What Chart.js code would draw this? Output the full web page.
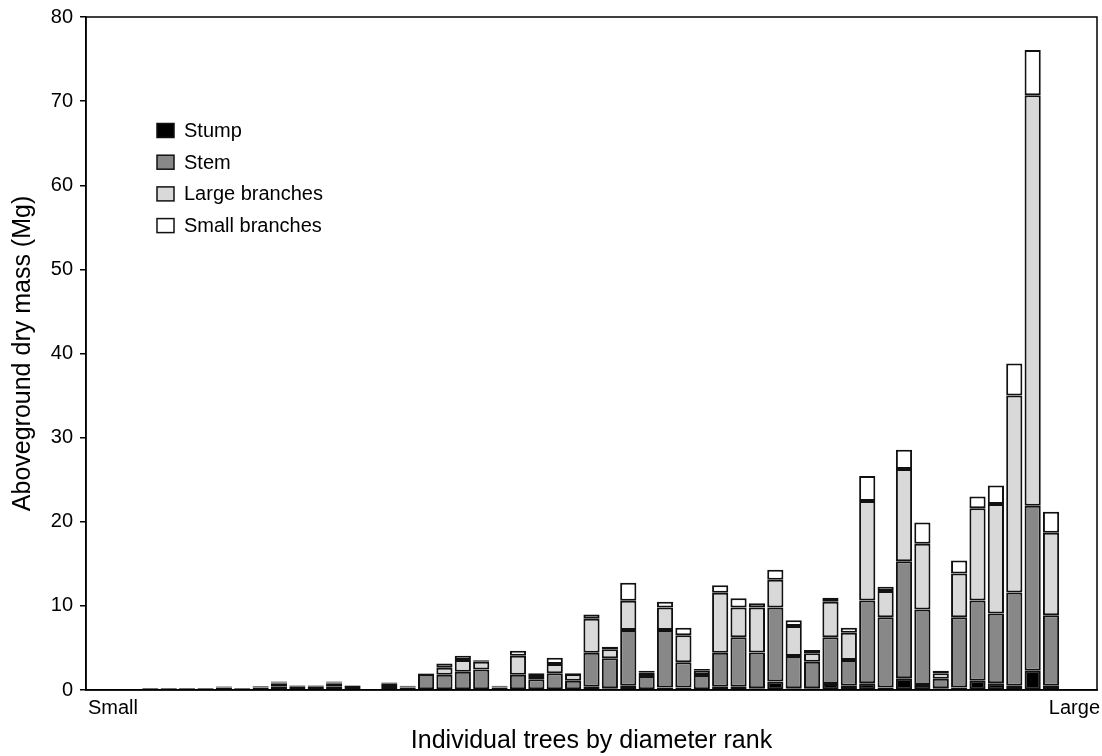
<!DOCTYPE html>
<html>
<head>
<meta charset="utf-8">
<script src="https://cdn.jsdelivr.net/npm/chart.js@4.4.0/dist/chart.umd.min.js"></script>
<style>
  html, body { margin: 0; padding: 0; background: #fff; }
  #wrap { width: 1102px; height: 756px; }
</style>
</head>
<body>
<div id="wrap"><canvas id="massChart"></canvas></div>
<script>
// trees sorted by diameter; empty slots pad both ends of the axis
const treeRanks = ['', '', '',
  '1', '2', '3', '4', '5', '6', '7', '8', '9', '10',
  '11', '12', '13', '14', '15', '16', '17', '18', '19', '20',
  '21', '22', '23', '24', '25', '26', '27', '28', '29', '30',
  '31', '32', '33', '34', '35', '36', '37', '38', '39', '40',
  '41', '42', '43', '44', '45', '46', '47', '48', '49', '50',
  '', ''];

// Mg per component
const stump = [null, null, null,
  0.2, 0.2, 0.2, 0.2, 0.3, 0.2, 0.3, 0.4, 0.25, 0.25,
  0.4, 0.35, 0, 0.35, 0.3, 0.1, 0.1, 0.1, 0.1, 0.3,
  0.1, 0.1, 0.1, 0.1, 0.4, 0.2, 0.5, 0.1, 0.3, 0.3,
  0.1, 0.4, 0.4, 0.2, 1.0, 0.2, 0.2, 0.7, 0.5, 0.8,
  0.3, 1.4, 0.6, 0.2, 0.3, 1.1, 0.8, 0.5, 2.3, 0.5,
  null, null];
const stem = [null, null, null,
  0.05, 0.05, 0.05, 0.05, 0.1, 0.05, 0.15, 0.4, 0.2, 0.2,
  0.4, 0.15, 0, 0.35, 0.15, 1.8, 1.7, 2.07, 2.35, 0.15,
  1.7, 1.17, 1.9, 1.0, 4.03, 3.56, 6.62, 1.56, 6.82, 3.0,
  1.68, 4.03, 5.86, 4.27, 8.8, 3.84, 3.16, 5.56, 3.06, 9.84,
  8.36, 13.9, 8.97, 1.15, 8.36, 9.55, 8.3, 11.1, 19.6, 8.4,
  null, null];
const largeBranches = [null, null, null,
  0, 0, 0, 0, 0, 0, 0, 0.1, 0.05, 0.05,
  0.1, 0, 0, 0.1, 0, 0.05, 0.85, 1.39, 0.9, 0,
  2.27, 0.39, 1.1, 0.8, 4.03, 1.07, 3.48, 0.39, 2.69, 3.2,
  0.51, 7.12, 3.55, 5.33, 3.3, 3.56, 1.0, 4.22, 3.24, 11.83,
  3.1, 10.97, 7.8, 0.63, 5.19, 10.95, 13.0, 23.4, 48.8, 9.8,
  null, null];
const smallBranches = [null, null, null,
  0, 0, 0, 0, 0.05, 0, 0, 0.1, 0.05, 0.05,
  0.1, 0.05, 0, 0.1, 0.05, 0.05, 0.5, 0.51, 0.2, 0.05,
  0.6, 0.34, 0.74, 0.1, 0.52, 0.31, 2.14, 0.24, 0.67, 0.89,
  0.2, 0.91, 1.11, 0.5, 1.2, 0.7, 0.39, 0.48, 0.6, 2.97,
  0.5, 2.3, 2.53, 0.31, 1.55, 1.4, 2.2, 3.8, 5.38, 2.5,
  null, null];

const axisEndLabels = ['Small', 'Large'];

const FONT = 'Liberation Sans, Arial, Helvetica, sans-serif';
const EDGE = '#111';

function layer(label, data, fill) {
  return {
    label: label,
    data: data,
    backgroundColor: fill,
    borderColor: EDGE,
    borderWidth: 2,
    borderSkipped: false,
    barPercentage: 0.88,
    categoryPercentage: 1.0
  };
}

// box around the plot, the Small/Large end labels and the legend inside the plot
const extras = {
  id: 'extras',
  afterDraw(chart) {
    const ctx = chart.ctx;
    const a = chart.chartArea;
    ctx.save();
    ctx.strokeStyle = '#000';
    ctx.lineWidth = 1.5;
    ctx.strokeRect(a.left, a.top, a.right - a.left, a.bottom - a.top);

    ctx.fillStyle = '#000';
    ctx.font = '20px ' + FONT;
    ctx.textBaseline = 'alphabetic';
    ctx.textAlign = 'left';
    ctx.fillText(axisEndLabels[0], a.left + 2, a.bottom + 24);
    ctx.textAlign = 'right';
    ctx.fillText(axisEndLabels[1], a.right + 3, a.bottom + 24);

    ctx.textAlign = 'left';
    ctx.textBaseline = 'middle';
    chart.data.datasets.forEach((ds, i) => {
      const cy = a.top + 113.5 + i * 31.7;
      const bx = a.left + 71;
      ctx.fillStyle = ds.backgroundColor;
      ctx.fillRect(bx, cy - 7, 17, 14);
      ctx.lineWidth = 1.5;
      ctx.strokeStyle = EDGE;
      ctx.strokeRect(bx, cy - 7, 17, 14);
      ctx.fillStyle = '#000';
      ctx.fillText(ds.label, bx + 27, cy + 1);
    });
    ctx.restore();
  }
};

const ctx = document.getElementById('massChart').getContext('2d');
new Chart(ctx, {
  type: 'bar',
  data: {
    labels: treeRanks,
    datasets: [
      layer('Stump', stump, '#000000'),
      layer('Stem', stem, '#888888'),
      layer('Large branches', largeBranches, '#d9d9d9'),
      layer('Small branches', smallBranches, '#ffffff')
    ]
  },
  options: {
    responsive: true,
    maintainAspectRatio: false,
    animation: false,
    layout: { padding: { top: 16, right: 5, left: 0, bottom: 0 } },
    plugins: {
      legend: { display: false },
      tooltip: { enabled: false }
    },
    scales: {
      x: {
        stacked: true,
        grid: { display: false },
        ticks: { display: false },
        border: { display: true, color: '#000', width: 1.5 },
        title: {
          display: true,
          text: 'Individual trees by diameter rank',
          color: '#000',
          font: { family: FONT, size: 25 },
          padding: { top: 0, bottom: 0 }
        },
        afterFit: s => { s.height = 66; }
      },
      y: {
        stacked: true,
        min: 0,
        max: 80,
        ticks: {
          stepSize: 10,
          color: '#000',
          padding: 7,
          font: { family: FONT, size: 20, lineHeight: 1.0 }
        },
        grid: {
          display: true,
          drawOnChartArea: false,
          drawTicks: true,
          tickLength: 6,
          color: '#000',
          lineWidth: 1.5
        },
        border: { display: true, color: '#000', width: 1.5 },
        title: {
          display: true,
          text: 'Aboveground dry mass (Mg)',
          color: '#000',
          font: { family: FONT, size: 25 },
          padding: { top: 8, bottom: 0 }
        },
        afterFit: s => { s.width = 86; }
      }
    }
  },
  plugins: [extras]
});
</script>
</body>
</html>
